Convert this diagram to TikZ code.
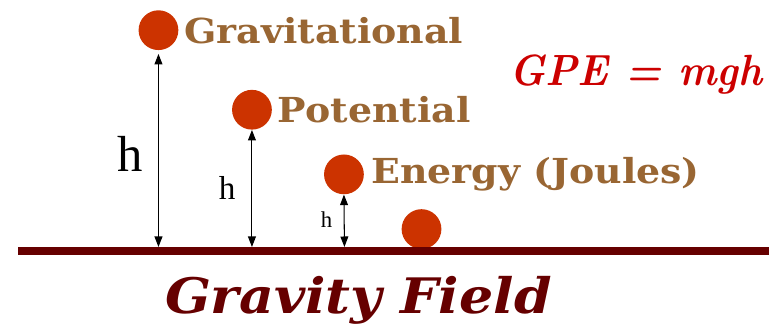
\documentclass[tikz,border=0pt]{standalone}
\usepackage{fontspec}
\usepackage{xcolor}
\usetikzlibrary{arrows.meta}
\newfontfamily\slabfont{DejaVu Serif}[FakeStretch=1.1]
\newfontfamily\timesfont{Liberation Serif}
\definecolor{cBall}{HTML}{CC3300}
\definecolor{cBrown}{HTML}{996633}
\definecolor{cGround}{HTML}{660000}
\definecolor{cFormula}{HTML}{CC0000}

\begin{document}
\begin{tikzpicture}[
  x=0.02cm, y=0.02cm,
  ball/.style={circle, fill=cBall, inner sep=0pt, minimum size=0.8cm},
  label/.style={anchor=west, inner sep=0pt, text=cBrown, font=\slabfont\bfseries\fontsize{19.7}{22}\selectfont},
  height/.style={font=\timesfont, inner sep=0pt},
  harrow/.style={{Triangle[length=6pt,width=4.5pt]}-{Triangle[length=6pt,width=4.5pt]}, line width=0.6pt},
]

\draw[white] (0,0) rectangle (773,331);

% balls
\node[ball] (b1) at (159,301) {};
\node[ball] (b2) at (253,221) {};
\node[ball] (b3) at (345.5,156) {};
\node[ball] (b4) at (423.5,101) {};

\node[label] (t1) at ([xshift=3pt]b1.east) {Gravitational};
\node[label] (t2) at ([xshift=3pt]b2.east) {Potential};
\node[label] (t3) at ([xshift=4pt]b3.east) {Energy (Joules)};

% ground
\draw[cGround, line width=4.5pt] (18,79) -- (773,79);
\coordinate (g1) at (159,83);
\coordinate (g2) at (253,83);
\coordinate (g3) at (346,83);

\draw[harrow] ([yshift=-2pt]b1.south) -- (g1);
\draw[harrow] (b2.south) -- (g2);
\draw[harrow] (b3.south) -- (g3);

\node[height, font=\timesfont\fontsize{29}{30}\selectfont] (h1) at (131,177) {h};
\node[height, font=\timesfont\fontsize{19}{20}\selectfont] (h2) at (228,142) {h};
\node[height, font=\timesfont\fontsize{13}{14}\selectfont] (h3) at (328,111) {h};

\node[text=cFormula, inner sep=0pt, font=\rmfamily\bfseries\itshape\fontsize{25}{28}\selectfont] (gpe) at (639,256) {\scalebox{0.93}[1]{GPE = mgh}};

\node[text=cGround, font=\slabfont\bfseries\itshape\fontsize{28}{30}\selectfont] (field) at (360,29) {Gravity Field};

\end{tikzpicture}
\end{document}
